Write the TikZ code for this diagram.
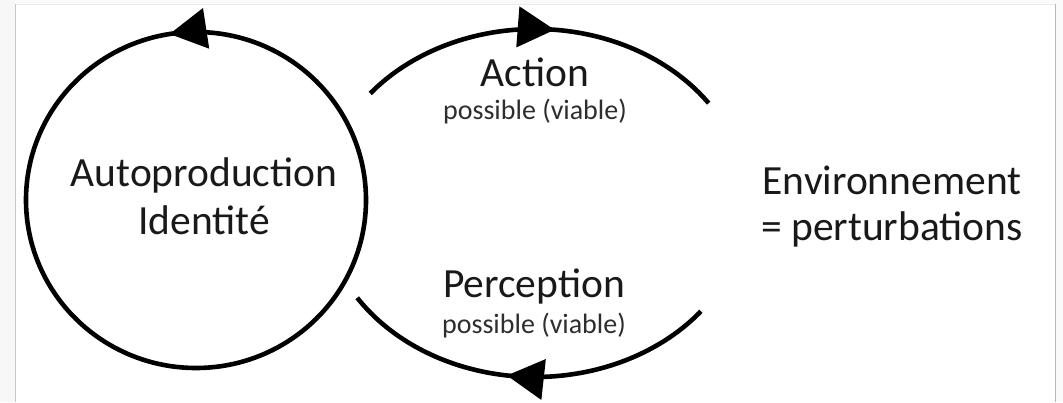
\documentclass[tikz,border=0pt]{standalone}
\usepackage{fontspec}
\setmainfont{Carlito}
\usetikzlibrary{arrows.meta,decorations.markings}
\tikzset{
  loopline/.style={line width=4.6pt, black},
  bigtxt/.style={anchor=base, inner sep=0pt, text=black!90, font=\fontsize{41.5}{48}\selectfont},
  smalltxt/.style={anchor=base, inner sep=0pt, text=black!82, font=\fontsize{28}{32}\selectfont},
  headat/.style={postaction=decorate, decoration={markings, mark=at position #1 with {\arrow{Triangle[length=37pt,width=40pt]}}}}
}
\begin{document}
\begin{tikzpicture}[x=1pt,y=1pt]
\useasboundingbox (0,0) rectangle (1063,402);
% screenshot frame
\fill[white] (0,0) rectangle (1063,402);
\fill[black!3] (0,0) rectangle (15,402);
\fill[black!2] (15,398) rectangle (1063,402);
\fill[black!2] (1056,0) rectangle (1063,402);
\draw[black!22, line width=1.2pt] (15.5,0) -- (15.5,397.5);
\draw[black!8, line width=1pt] (15.5,397.5) -- (1055.5,397.5);
\draw[black!28, line width=1.2pt] (1055.5,0) -- (1055.5,397.5);

% left circle
\coordinate (cc) at (196,202);
\draw[loopline, headat=0.275] (cc) circle[x radius=170, y radius=168];
\node[bigtxt] (auto1) at (204,215) {Autoproduction};
\node[bigtxt] (auto2) at (204,167) {Identité};

% right loop
\coordinate (ec) at (535,199);
\coordinate (a1) at ([shift={(141:212 and 174)}]ec);
\coordinate (p1) at ([shift={(321.5:212 and 174)}]ec);
\draw[loopline, headat=0.535] (a1) arc[start angle=141, end angle=35, x radius=212, y radius=174];
\draw[loopline, headat=0.55] (p1) arc[start angle=321.5, end angle=213, x radius=212, y radius=174];

\node[bigtxt] (act) at (535,315) {Action};
\node[smalltxt] (actp) at (535,282) {possible (viable)};
\node[bigtxt] (perc) at (534,104) {Perception};
\node[smalltxt] (percp) at (534,69) {possible (viable)};

\node[bigtxt] (env1) at (892,207) {Environnement};
\node[bigtxt] (env2) at (892,161) {= perturbations};
\end{tikzpicture}
\end{document}
